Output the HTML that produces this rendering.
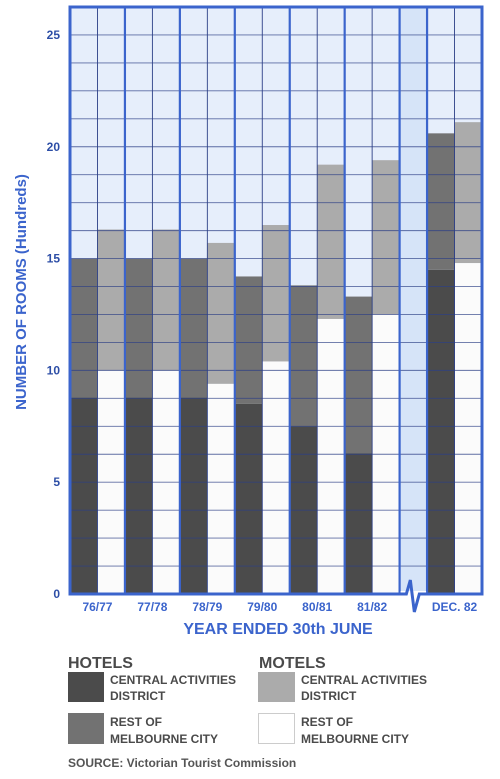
<!DOCTYPE html>
<html><head><meta charset="utf-8"><style>
html,body{margin:0;padding:0;background:#fff;}
svg{display:block;font-family:"Liberation Sans",sans-serif;}
</style></head><body>
<svg id="chart" width="500" height="779" viewBox="0 0 500 779">
<g id="plot"></g>
<g id="axes"></g>
<text x="22" y="292" transform="rotate(-90 22 292)" text-anchor="middle" dominant-baseline="middle" font-size="15" font-weight="bold" fill="#3b64cc">NUMBER OF ROOMS (Hundreds)</text>
<text x="278" y="634" text-anchor="middle" font-size="16" font-weight="bold" fill="#3b64cc">YEAR ENDED 30th JUNE</text>
<g font-weight="bold" fill="#4a4a4a">
 <text x="68" y="668" font-size="16">HOTELS</text>
 <rect x="68" y="672" width="36" height="30" fill="#4b4b4b"/>
 <text x="110" y="684" font-size="12">CENTRAL ACTIVITIES</text>
 <text x="110" y="700" font-size="12">DISTRICT</text>
 <rect x="68" y="713" width="36" height="31" fill="#727272"/>
 <text x="110" y="726" font-size="12">REST OF</text>
 <text x="110" y="743" font-size="12">MELBOURNE CITY</text>
 <text x="259" y="668" font-size="16">MOTELS</text>
 <rect x="258" y="672" width="37" height="30" fill="#ababab"/>
 <text x="301" y="684" font-size="12">CENTRAL ACTIVITIES</text>
 <text x="301" y="700" font-size="12">DISTRICT</text>
 <rect x="258.5" y="713.5" width="36" height="30" fill="#fff" stroke="#ccc"/>
 <text x="301" y="726" font-size="12">REST OF</text>
 <text x="301" y="743" font-size="12">MELBOURNE CITY</text>
 <text x="68" y="767" font-size="12" fill="#555">SOURCE: Victorian Tourist Commission</text>
</g>
</svg>
<script>
const categories = ["76/77","77/78","78/79","79/80","80/81","81/82","DEC. 82"];
const hotelsCAD   = [8.8, 8.8, 8.8, 8.5, 7.5, 6.3, 14.5];
const hotelsRest  = [6.2, 6.2, 6.2, 5.7, 6.3, 7.0, 6.1];
const motelsRest  = [10.0, 10.0, 9.4, 10.4, 12.3, 12.5, 14.8];
const motelsCAD   = [6.3, 6.3, 6.3, 6.1, 6.9, 6.9, 6.3];
const yTicks = [0, 5, 10, 15, 20, 25];

const NS = "http://www.w3.org/2000/svg";
const plot = document.getElementById("plot");
const axes = document.getElementById("axes");
const L = 70, R = 482, T = 7, B = 594, colW = (R - L) / 15;
const yMax = 26.25;
function y(v){ return B - v * (B - T) / yMax; }
function colX(i){ return L + i * colW; }
function groupCol(g){ return g < 6 ? g * 2 : 13; }
function mk(tag, attrs, parent){
  const e = document.createElementNS(NS, tag);
  for (const k in attrs) e.setAttribute(k, attrs[k]);
  parent.appendChild(e);
  return e;
}
mk("rect", {x:L, y:T, width:R-L, height:B-T, fill:"#e6eefb"}, plot);
mk("rect", {x:colX(12), y:T, width:colW, height:B-T, fill:"#d6e4f8"}, plot);

function bar(col, v0, v1, fill, name){
  const r = mk("rect", {x:colX(col), y:y(v1), width:colW, height:y(v0)-y(v1), fill:fill}, plot);
  
  
}
categories.forEach((c, g) => {
  const hc = groupCol(g), mc = hc + 1;
  bar(hc, 0, hotelsCAD[g], "#4b4b4b", "bar-hotels-cad-" + g);
  bar(hc, hotelsCAD[g], hotelsCAD[g] + hotelsRest[g], "#727272", "bar-hotels-rest-" + g);
  bar(mc, 0, motelsRest[g], "#fbfbfb", "bar-motels-rest-" + g);
  bar(mc, motelsRest[g], motelsRest[g] + motelsCAD[g], "#ababab", "bar-motels-cad-" + g);
});
// horizontal grid
for (let v = 1.25; v < yMax; v += 1.25) {
  mk("line", {x1:L, x2:R, y1:y(v), y2:y(v), stroke:"#2c3f86", "stroke-width":0.9, opacity:0.75}, plot);
}
// vertical grid
for (let i = 1; i < 15; i++) {
  const thick = (i % 2 === 0 && i <= 12) || i === 13;
  mk("line", {x1:colX(i), x2:colX(i), y1:T, y2:B, stroke: thick ? "#3b64cc" : "#2c3f86", "stroke-width": thick ? 2.2 : 0.9}, plot);
}
mk("rect", {x:L, y:T, width:R-L, height:B-T, fill:"none", stroke:"#3b64cc", "stroke-width":3}, plot);
// axis break zigzag
const bx = colX(12) + colW/2;
mk("rect", {x:colX(12)+1, y:B-3, width:colW-2, height:8, fill:"#fff"}, plot);
mk("path", {d:`M${colX(12)-1} ${B} L${bx-7} ${B} L${bx-3} ${B-14} L${bx+1} ${B+18} L${bx+6} ${B} L${colX(13)+1} ${B}`, fill:"none", stroke:"#3b64cc", "stroke-width":3}, plot);

yTicks.forEach(t => {
  const e = mk("text", {x:60, y:y(t)+4, "text-anchor":"end", "font-size":12, "font-weight":"bold", fill:"#2d4ea6"}, axes);
  e.textContent = t;
  
  
});
categories.forEach((c, g) => {
  const cx = g < 6 ? colX(g*2 + 1) : colX(13) + colW;
  const e = mk("text", {x:cx, y:611, "text-anchor":"middle", "font-size":12, "font-weight":"bold", fill:"#3b64cc"}, axes);
  e.textContent = c;
  
  
});
</script>
</body></html>
